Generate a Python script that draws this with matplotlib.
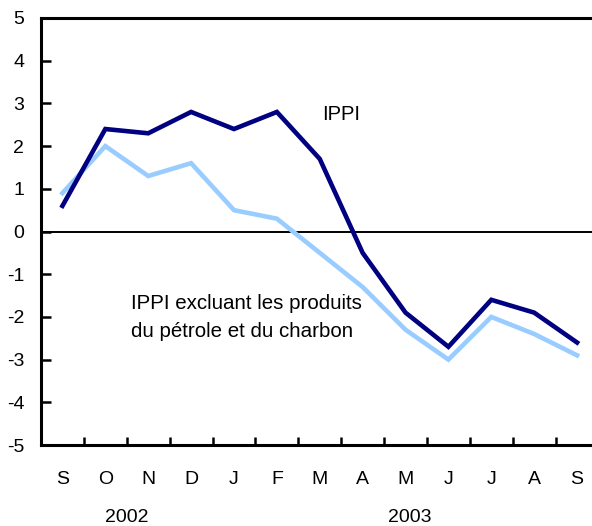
import matplotlib
matplotlib.use("Agg")
import matplotlib.pyplot as plt
import numpy as np
from matplotlib.transforms import blended_transform_factory

plt.rcParams['font.family'] = ['Liberation Sans', 'DejaVu Sans']

months = ["S", "O", "N", "D", "J", "F", "M", "A", "M", "J", "J", "A", "S"]
ippi = [0.6, 2.4, 2.3, 2.8, 2.4, 2.8, 1.7, -0.5, -1.9, -2.7, -1.6, -1.9, -2.6]
ippi_excl = [0.9, 2.0, 1.3, 1.6, 0.5, 0.3, -0.5, -1.3, -2.3, -3.0, -2.0, -2.4, -2.9]
years = ["2002", "2003"]
year_pos = [1.5, 8.1]
yticks = list(range(-5, 6))

fig = plt.figure(figsize=(5.92, 5.26), dpi=100)
W, H = 592, 526
left, right, top, bottom = 41, 598.5, 18, 445
ax = fig.add_axes([left / W, 1 - bottom / H, (right - left) / W, (bottom - top) / H])

x = np.arange(len(months))
ax.plot(x, ippi_excl, color="#99ccff", lw=3.3, solid_joinstyle="miter", zorder=3)
ax.plot(x, ippi, color="#000080", lw=3.3, solid_joinstyle="miter", zorder=4)
ax.axhline(0, color="black", lw=1.4, zorder=2)

ax.set_xlim(-0.5, len(months) - 0.5)
ax.set_ylim(-5, 5)

for s in ["left", "bottom", "top"]:
    ax.spines[s].set_linewidth(2.2)
ax.spines["right"].set_visible(False)

fs = 14
ax.set_yticks(yticks)
ax.set_yticklabels([str(v) for v in yticks], fontsize=fs)
ax.tick_params(axis="y", direction="in", length=7, width=1.8, pad=12)

ax.set_xticks(np.arange(0.5, len(months) - 1, 1.0))
ax.set_xticklabels([])
ax.tick_params(axis="x", which="major", direction="in", length=6, width=1.8)
ax.set_xticks(x, minor=True)
ax.set_xticklabels(months, minor=True, fontsize=fs)
ax.tick_params(axis="x", which="minor", length=0, pad=19)

trans = blended_transform_factory(ax.transData, fig.transFigure)
for yr, p in zip(years, year_pos):
    ax.text(p, 1 - 518 / H, yr, transform=trans, ha="center", va="center", fontsize=fs)

ax.text(6.05, 2.75, "IPPI", fontsize=14.5, ha="left", va="center")
ax.text(1.6, -2.02, "IPPI excluant les produits\ndu pétrole et du charbon",
        fontsize=14.8, ha="left", va="center", linespacing=1.6)

fig.savefig("out.png", dpi=100)
